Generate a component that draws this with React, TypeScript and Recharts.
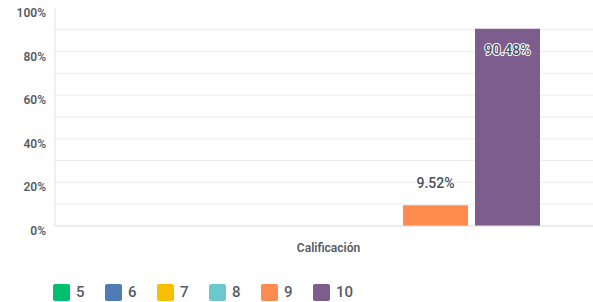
import React from 'react';
import { BarChart, Bar, XAxis, YAxis, CartesianGrid, LabelList } from 'recharts';

const categories = ['Calificación'];
const seriesNames = ['5', '6', '7', '8', '9', '10'];
const seriesValues = [[0], [0], [0], [0], [9.52], [90.48]];
const seriesColors = ['#00bf6f', '#507cb6', '#f9be00', '#6bc8cd', '#ff8b4f', '#7d5c8e'];
const yTicks = [0, 10, 20, 30, 40, 50, 60, 70, 80, 90, 100];
const gridValues = [10, 20, 30, 40, 50, 60, 70, 80, 90];

const data = categories.map((c, i) => {
  const row: any = { name: c };
  seriesNames.forEach((s, j) => { row['s' + s] = seriesValues[j][i]; });
  return row;
});

const FONT = 'Roboto, "Liberation Sans", sans-serif';

const YTick = (props: any) => {
  const { y, payload } = props;
  if (payload.value % 20 !== 0) return null;
  return (
    <text x={46} y={y + 5} textAnchor="end" dominantBaseline="central" fontFamily={FONT} fontSize={12} fontWeight={600} fill="#555c63">
      {payload.value + '%'}
    </text>
  );
};

const XTick = (props: any) => {
  const { x, y, payload } = props;
  return (
    <text x={x + 1} y={y + 14} textAnchor="middle" dominantBaseline="central" fontFamily={FONT} fontSize={12} fontWeight={600} fill="#555c63">
      {payload.value}
    </text>
  );
};

const BarLabel = (props: any) => {
  const { x, y, width, value } = props;
  if (!value) return null;
  const inside = y - 22 < 10;
  const ty = inside ? y + 21 : y - 22;
  return (
    <text x={x + width / 2} y={ty} textAnchor="middle" dominantBaseline="central" fontFamily={FONT} fontSize={14} fontWeight={500}
      fill="#4a5158" stroke={inside ? '#ffffff' : 'none'} strokeWidth={2} paintOrder="stroke" strokeLinejoin="round">
      {value.toFixed(2) + '%'}
    </text>
  );
};

const LegendBlock = () => (
  <div style={{ position: 'absolute', left: 53, top: 283, display: 'flex', fontFamily: FONT }}>
    {seriesNames.map((s, i) => (
      <div key={s} style={{ display: 'flex', alignItems: 'center', width: 52 }}>
        <div style={{ width: 17, height: 17, borderRadius: 2, background: seriesColors[i] }} />
        <span style={{ marginLeft: 6, fontSize: 15, fontWeight: 500, color: '#555c63' }}>{s}</span>
      </div>
    ))}
  </div>
);

export default function App() {
  return (
    <div style={{ position: 'absolute', left: 0, top: 0, width: 593, height: 302, background: '#fff', overflow: 'hidden' }}>
      <BarChart width={600} height={302} data={data} margin={{ top: 8, right: 0, bottom: 0, left: 0 }}
        barCategoryGap={60} barGap={7}>
        <CartesianGrid vertical={false} stroke="#ececec" horizontalValues={gridValues} />
        <XAxis dataKey="name" tickLine={false} axisLine={{ stroke: '#dcdcdc' }} tick={<XTick />} height={76} />
        <YAxis width={55} domain={[0, 100]} ticks={yTicks} interval={0} tickLine={false} axisLine={{ stroke: '#e2e2e2' }} tick={<YTick />} />
        {seriesNames.map((s, i) => (
          <Bar key={s} dataKey={'s' + s} name={s} fill={seriesColors[i]} isAnimationActive={false}>
            <LabelList dataKey={'s' + s} content={<BarLabel />} />
          </Bar>
        ))}
      </BarChart>
      <LegendBlock />
    </div>
  );
}
